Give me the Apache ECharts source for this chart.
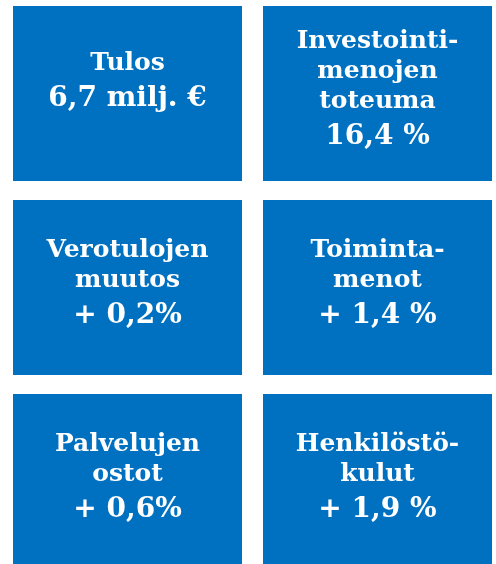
<!DOCTYPE html>
<html>
<head>
<meta charset="utf-8">
<script src="https://cdn.jsdelivr.net/npm/echarts@6/dist/echarts.min.js"></script>
<style>html,body{margin:0;padding:0;background:#fff}#c{width:496px;height:564px}</style>
</head>
<body>
<div id="c"></div>
<script>
const columns = ['vasen', 'oikea'];
const rows = ['rivi1', 'rivi2', 'rivi3'];
const labels = [
  ['Tulos'],
  ['Investointi-', 'menojen', 'toteuma'],
  ['Verotulojen', 'muutos'],
  ['Toiminta-', 'menot'],
  ['Palvelujen', 'ostot'],
  ['Henkilöstö-', 'kulut']
];
const values = ['6,7 milj. €', '16,4 %', '+ 0,2%', '+ 1,4 %', '+ 0,6%', '+ 1,9 %'];
const cellCol = [0, 1, 0, 1, 0, 1];
const cellRow = [0, 0, 1, 1, 2, 2];

const chart = echarts.init(document.getElementById('c'), null, {renderer: 'canvas'});
const FONT = '"DejaVu Serif", "Liberation Serif", serif';
const data = values.map((v, i) => [cellCol[i], cellRow[i], i]);

chart.setOption({
  animation: false,
  backgroundColor: '#ffffff',
  grid: {left: 13, top: 6, width: 500, height: 582, containLabel: false, outerBoundsMode: 'none'},
  xAxis: {type: 'category', data: columns, show: false},
  yAxis: {type: 'category', data: rows, inverse: true, show: false},
  series: [{
    type: 'custom',
    clip: false,
    data: data,
    renderItem: function (params, api) {
      const idx = api.value(2);
      const c = api.coord([api.value(0), api.value(1)]);
      const s = api.size([1, 1]);
      const x0 = c[0] - s[0] / 2;
      const y0 = c[1] - s[1] / 2;
      const w = s[0] - 21;
      const h = s[1] - 19;
      const txt = labels[idx].map(l => '{a|' + l + '}').join('\n') + '\n{b|' + values[idx] + '}';
      return {
        type: 'group',
        children: [
          {type: 'rect', shape: {x: x0, y: y0, width: w, height: h}, style: {fill: '#0070C0'}},
          {type: 'text', x: x0 + w / 2, y: y0 + h / 2 - (idx === 0 ? 10 : 2),
            style: {
              text: txt,
              align: 'center',
              verticalAlign: 'middle',
              rich: {
                a: {fontFamily: FONT, fontWeight: 'bold', fontSize: 25, lineHeight: 30, fill: '#ffffff', align: 'center'},
                b: {fontFamily: FONT, fontWeight: 'bold', fontSize: 28, lineHeight: 40, fill: '#ffffff', align: 'center'}
              }
            }}
        ]
      };
    }
  }]
});
</script>
</body>
</html>
